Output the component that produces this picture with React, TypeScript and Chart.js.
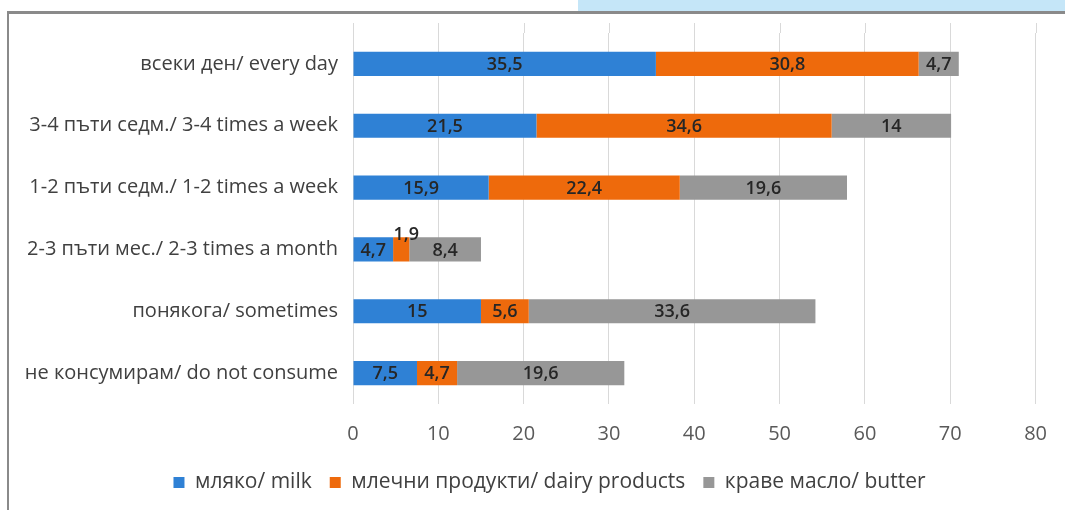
import React, { useEffect, useRef } from "react";
import { Chart, registerables } from "chart.js";

Chart.register(...registerables);

const categories = [
  "всеки ден/ every day",
  "3-4 пъти седм./ 3-4 times a week",
  "1-2 пъти седм./ 1-2 times a week",
  "2-3 пъти мес./ 2-3 times a month",
  "понякога/ sometimes",
  "не консумирам/ do not consume",
];

const milk = [35.5, 21.5, 15.9, 4.7, 15, 7.5];
const dairy = [30.8, 34.6, 22.4, 1.9, 5.6, 4.7];
const butter = [4.7, 14, 19.6, 8.4, 33.6, 19.6];

const seriesNames = ["мляко/ milk", "млечни продукти/ dairy products", "краве масло/ butter"];
const seriesColors = ["#2F81D5", "#EE6A0C", "#979797"];

const xTicks = [0, 10, 20, 30, 40, 50, 60, 70, 80];

const FONT = "'Open Sans', sans-serif";

const fmt = (v: number) => String(v).replace(".", ",");

// Writes each segment's value in its middle; segments too narrow get the label just above the bar.
const segmentLabels = {
  id: "segmentLabels",
  afterDatasetsDraw(chart: any) {
    const ctx = chart.ctx;
    ctx.save();
    ctx.font = `600 18px ${FONT}`;
    ctx.fillStyle = "#262626";
    ctx.textAlign = "center";
    chart.data.datasets.forEach((ds: any, di: number) => {
      const meta = chart.getDatasetMeta(di);
      meta.data.forEach((bar: any, i: number) => {
        const v = ds.data[i];
        const text = fmt(v);
        const cx = (bar.x + bar.base) / 2;
        const w = Math.abs(bar.x - bar.base);
        const tw = ctx.measureText(text).width;
        if (tw + 4 > w) {
          ctx.textBaseline = "alphabetic";
          ctx.fillText(text, cx + 5, bar.y - bar.height / 2 + 3);
        } else {
          ctx.textBaseline = "middle";
          ctx.fillText(text, cx, bar.y + 1);
        }
      });
    });
    ctx.restore();
  },
};

// The vertical gridlines run a little above the first category band.
const gridAbove = {
  id: "gridAbove",
  beforeDatasetsDraw(chart: any) {
    const { ctx, chartArea, scales } = chart;
    ctx.save();
    ctx.strokeStyle = "#d9d9d9";
    ctx.lineWidth = 1;
    xTicks.forEach((t) => {
      const x = Math.round(scales.x.getPixelForValue(t)) + 0.5;
      ctx.beginPath();
      ctx.moveTo(x, chartArea.top - 10);
      ctx.lineTo(x, chartArea.top);
      ctx.stroke();
    });
    ctx.restore();
  },
};

// Centres the legend row under the whole figure rather than under the padded area.
const legendShift = {
  id: "legendShift",
  afterLayout(chart: any) {
    const lg = chart.legend;
    if (lg) {
      lg.left += 22;
      lg.right += 22;
    }
  },
};

export default function App() {
  const ref = useRef<HTMLCanvasElement>(null);

  useEffect(() => {
    const canvas = ref.current;
    if (!canvas) return;
    const chart = new Chart(canvas, {
      type: "bar",
      data: {
        labels: categories,
        datasets: [milk, dairy, butter].map((d, k) => ({
          label: seriesNames[k],
          data: d,
          backgroundColor: seriesColors[k],
          borderWidth: 0,
          barPercentage: 0.39,
          categoryPercentage: 1,
        })),
      },
      options: {
        indexAxis: "y",
        responsive: false,
        animation: false,
        devicePixelRatio: 1,
        layout: { padding: { top: 19, right: 19, left: 0, bottom: 7 } },
        scales: {
          x: {
            stacked: true,
            min: 0,
            max: 80,
            afterBuildTicks: (scale: any) => {
              scale.ticks = xTicks.map((value) => ({ value }));
            },
            afterFit: (scale: any) => {
              scale.height = 50;
            },
            grid: { color: "#d9d9d9", lineWidth: 1, drawTicks: false },
            border: { display: false },
            ticks: {
              padding: 18,
              color: "#595959",
              font: { family: FONT, size: 20 },
            },
          },
          y: {
            stacked: true,
            grid: { display: false, drawTicks: false },
            border: { display: false },
            afterFit: (scale: any) => {
              scale.width = 344;
              scale.paddingTop = 0;
              scale.paddingBottom = 0;
            },
            ticks: {
              padding: 15,
              color: "#404040",
              font: { family: FONT, size: 20 },
            },
          },
        },
        plugins: {
          legend: {
            position: "bottom",
            labels: {
              boxWidth: 11,
              boxHeight: 11,
              padding: 18,
              color: "#404040",
              font: { family: FONT, size: 21 },
            },
          },
          tooltip: { enabled: false },
        },
      },
      plugins: [segmentLabels, gridAbove, legendShift],
    });
    return () => chart.destroy();
  }, []);

  return (
    <div style={{ position: "absolute", left: 0, top: 0, width: 1065, height: 510, overflow: "hidden", background: "#fff" }}>
      <div style={{ position: "absolute", left: 578, top: 0, width: 487, height: 11, background: "#C5E6F8" }} />
      <div
        style={{
          position: "absolute",
          left: 7,
          top: 11,
          width: 1100,
          height: 520,
          borderLeft: "2px solid #8a8a8a",
          borderTop: "3px solid #8a8a8a",
        }}
      />
      <canvas ref={ref} width={1056} height={496} style={{ position: "absolute", left: 9, top: 14, width: 1056, height: 496 }} />
    </div>
  );
}
